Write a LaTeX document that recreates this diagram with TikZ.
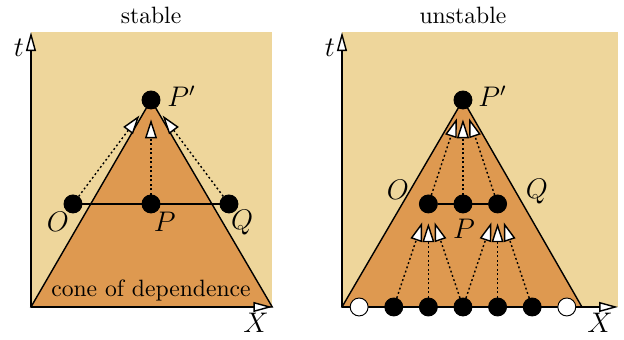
\documentclass[tikz,border=0pt]{standalone}
\usepackage{amsmath}
\usetikzlibrary{arrows.meta, calc}

\definecolor{bgbeige}{RGB}{238,214,155}
\definecolor{coneorange}{RGB}{222,153,80}

\tikzset{
  dot/.style={circle, draw, fill=black, inner sep=0pt, minimum size=7.6pt},
  hollowdot/.style={dot, fill=white},
  lbl/.style={font=\large},
  axis/.style={semithick, -{Triangle[fill=white, length=8pt, width=4.2pt]}},
  influence/.style={dash pattern=on 0.8pt off 1.1pt, semithick, shorten >=4.2pt,
    -{Triangle[fill=white, length=8pt, width=5pt]}},
}

\begin{document}
\begin{tikzpicture}
  \useasboundingbox (-0.461,-0.491) rectangle (8.824,4.568);

  % Stable scheme
  \fill[bgbeige] (0,0) rectangle (3.59,4.09);
  \draw[semithick, fill=coneorange] (0,0) -- (1.786,3.08) -- (3.59,0) -- cycle;
  \draw[axis] (0,0) -- (0,4.09);
  \draw[axis] (0,0) -- (3.59,0);
  \node[lbl] at (-0.18,3.86) {$t$};
  \node[lbl] at (3.35,-0.24) {$X$};
  \node at (1.786,4.345) {stable};
  \node at (1.786,0.24) {cone of dependence};

  \node[dot] (Pp) at (1.786,3.08) {};
  \node[dot] (O) at (0.625,1.533) {};
  \node[dot] (P) at (1.786,1.533) {};
  \node[dot] (Q) at (2.946,1.533) {};
  \draw[thick] (O) -- (P) -- (Q);
  \draw[influence] (O) -- (Pp);
  \draw[influence] (P) -- (Pp);
  \draw[influence] (Q) -- (Pp);

  \node[lbl] at (2.24,3.14) {$P'$};
  \node[lbl] at (0.4,1.26) {$O$};
  \node[lbl] at (1.99,1.26) {$P$};
  \node[lbl] at (3.14,1.26) {$Q$};

  % Unstable scheme
  \begin{scope}[xshift=4.628cm]
    \fill[bgbeige] (0,0) rectangle (4.107,4.09);
    \draw[semithick, fill=coneorange] (0,0) -- (1.8,3.08) -- (3.57,0) -- cycle;
    \draw[axis] (0,0) -- (0,4.09);
    \draw[axis] (0,0) -- (4.107,0);
    \node[lbl] at (-0.18,3.86) {$t$};
    \node[lbl] at (3.84,-0.24) {$X$};
    \node at (1.8,4.345) {unstable};

    \node[dot] (uPp) at (1.8,3.08) {};
    \foreach \i in {1,...,3}
      \node[dot] (m\i) at ({1.8+(\i-2)*0.515},1.533) {};
    \foreach \i in {1,...,5}
      \node[dot] (b\i) at ({1.8+(\i-3)*0.515},0) {};
    \node[hollowdot] (b0) at ({1.8-3*0.515},0) {};
    \node[hollowdot] (b6) at ({1.8+3*0.515},0) {};
    \draw[thick] (m1) -- (m2) -- (m3);

    \foreach \i in {1,2,3}
      \draw[influence] (b\i) -- (m1);
    \foreach \i in {3,4,5}
      \draw[influence] (b\i) -- (m3);
    \foreach \i in {1,2,3}
      \draw[influence] (m\i) -- (uPp);

    \node[lbl] at (2.24,3.14) {$P'$};
    \node[lbl] at (0.833,1.74) {$O$};
    \node[lbl] at (1.815,1.16) {$P$};
    \node[lbl] at (2.90,1.71) {$Q$};
  \end{scope}
\end{tikzpicture}
\end{document}
